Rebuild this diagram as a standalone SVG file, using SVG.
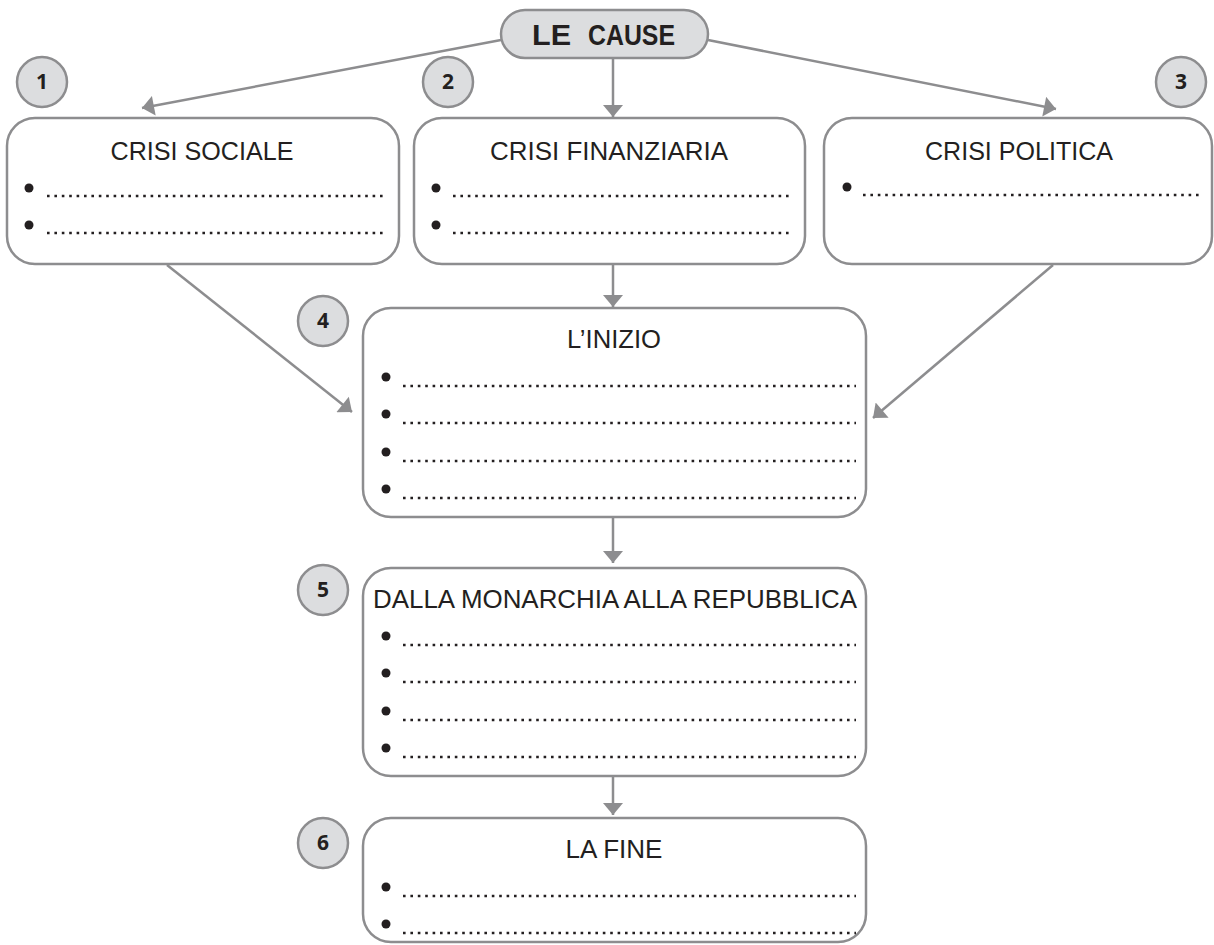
<svg xmlns="http://www.w3.org/2000/svg" width="1214" height="945" viewBox="0 0 1214 945">
<style>
.box{fill:#fff;stroke:#8d8d8f;stroke-width:2.5}
.pill{fill:#dcdddf;stroke:#8d8d8f;stroke-width:2.5}
.num{font-family:"Open Sans","Liberation Sans",sans-serif;font-weight:bold;font-size:21px;fill:#231f20;text-anchor:middle}
.title{font-family:"Liberation Sans",Arial,sans-serif;font-size:25.5px;fill:#231f20;text-anchor:middle}
.dots{stroke:#231f20;stroke-width:2.6;stroke-dasharray:2.6 4.8;fill:none}
.bul{fill:#231f20}
.conn{stroke:#8d8d8f;stroke-width:2.5;fill:none;marker-end:url(#ah)}
</style>
<defs>
<marker id="ah" markerUnits="userSpaceOnUse" markerWidth="14" markerHeight="20" viewBox="0 0 12 20" refX="12" refY="10" orient="auto">
<path d="M0,0 L12,10 L0,20 z" fill="#8d8d8f"/>
</marker>
</defs>
<rect width="1214" height="945" fill="#fff"/>
<g id="connectors">
<line class="conn" x1="501" y1="40" x2="142" y2="108"/>
<line class="conn" x1="613" y1="58" x2="613" y2="117"/>
<line class="conn" x1="708" y1="40" x2="1056" y2="109"/>
<line class="conn" x1="167" y1="265" x2="352" y2="412"/>
<line class="conn" x1="613" y1="265" x2="613" y2="307"/>
<line class="conn" x1="1053" y1="265" x2="873" y2="418"/>
<line class="conn" x1="613" y1="518" x2="613" y2="563"/>
<line class="conn" x1="613" y1="777" x2="613" y2="815"/>
</g>
<g id="le-cause">
<rect class="pill" x="501" y="10" width="207" height="48" rx="24"/>
<text y="45" font-family="Liberation Sans,Arial,sans-serif" font-weight="bold" font-size="29" fill="#231f20"><tspan x="532" textLength="39" lengthAdjust="spacingAndGlyphs">LE</tspan><tspan x="588" textLength="87" lengthAdjust="spacingAndGlyphs">CAUSE</tspan></text>
</g>
<g id="n1"><circle class="pill" cx="42" cy="82" r="25"/><text class="num" x="42" y="89">1</text></g>
<g id="n2"><circle class="pill" cx="448" cy="82" r="25"/><text class="num" x="448" y="89">2</text></g>
<g id="n3"><circle class="pill" cx="1181" cy="82" r="25"/><text class="num" x="1181" y="89">3</text></g>
<g id="n4"><circle class="pill" cx="323" cy="321" r="25"/><text class="num" x="323" y="328">4</text></g>
<g id="n5"><circle class="pill" cx="323" cy="590" r="25"/><text class="num" x="323" y="597">5</text></g>
<g id="n6"><circle class="pill" cx="323" cy="843" r="25"/><text class="num" x="323" y="850">6</text></g>
<g id="crisi-sociale">
<rect class="box" x="7" y="118" width="392" height="146" rx="28"/>
<text class="title" x="202" y="160" textLength="183" lengthAdjust="spacingAndGlyphs">CRISI SOCIALE</text>
<circle class="bul" cx="29" cy="188" r="4.5"/><line class="dots" x1="47" y1="196" x2="384" y2="196"/>
<circle class="bul" cx="29" cy="225" r="4.5"/><line class="dots" x1="47" y1="233" x2="384" y2="233"/>
</g>
<g id="crisi-finanziaria">
<rect class="box" x="414" y="118" width="391" height="146" rx="28"/>
<text class="title" x="609" y="160" textLength="238" lengthAdjust="spacingAndGlyphs">CRISI FINANZIARIA</text>
<circle class="bul" cx="436" cy="188" r="4.5"/><line class="dots" x1="453" y1="196" x2="791" y2="196"/>
<circle class="bul" cx="436" cy="225" r="4.5"/><line class="dots" x1="453" y1="233" x2="791" y2="233"/>
</g>
<g id="crisi-politica">
<rect class="box" x="824" y="118" width="388" height="146" rx="28"/>
<text class="title" x="1019" y="160" textLength="188" lengthAdjust="spacingAndGlyphs">CRISI POLITICA</text>
<circle class="bul" cx="847" cy="187" r="4.5"/><line class="dots" x1="863" y1="195" x2="1201" y2="195"/>
</g>
<g id="inizio">
<rect class="box" x="363" y="308" width="503" height="209" rx="28"/>
<text class="title" x="614" y="348" textLength="94" lengthAdjust="spacingAndGlyphs">L’INIZIO</text>
<circle class="bul" cx="386" cy="377" r="4.5"/><line class="dots" x1="403" y1="386" x2="856" y2="386"/>
<circle class="bul" cx="386" cy="414" r="4.5"/><line class="dots" x1="403" y1="423" x2="856" y2="423"/>
<circle class="bul" cx="386" cy="452" r="4.5"/><line class="dots" x1="403" y1="461" x2="856" y2="461"/>
<circle class="bul" cx="386" cy="489" r="4.5"/><line class="dots" x1="403" y1="498" x2="856" y2="498"/>
</g>
<g id="monarchia">
<rect class="box" x="363" y="568" width="503" height="208" rx="28"/>
<text class="title" x="615" y="608" textLength="484" lengthAdjust="spacingAndGlyphs">DALLA MONARCHIA ALLA REPUBBLICA</text>
<circle class="bul" cx="386" cy="636" r="4.5"/><line class="dots" x1="403" y1="645" x2="856" y2="645"/>
<circle class="bul" cx="386" cy="673" r="4.5"/><line class="dots" x1="403" y1="682" x2="856" y2="682"/>
<circle class="bul" cx="386" cy="711" r="4.5"/><line class="dots" x1="403" y1="720" x2="856" y2="720"/>
<circle class="bul" cx="386" cy="748" r="4.5"/><line class="dots" x1="403" y1="757" x2="856" y2="757"/>
</g>
<g id="fine">
<rect class="box" x="363" y="818" width="503" height="124" rx="28"/>
<text class="title" x="614" y="858" textLength="97" lengthAdjust="spacingAndGlyphs">LA FINE</text>
<circle class="bul" cx="386" cy="887" r="4.5"/><line class="dots" x1="403" y1="896" x2="856" y2="896"/>
<circle class="bul" cx="386" cy="924" r="4.5"/><line class="dots" x1="403" y1="933" x2="856" y2="933"/>
</g>
</svg>
